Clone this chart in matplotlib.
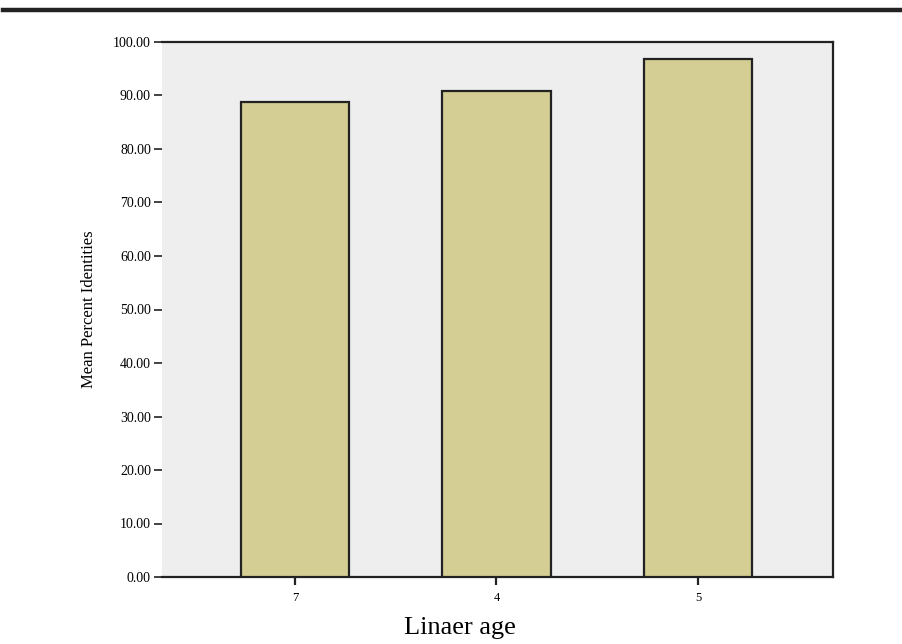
import matplotlib
matplotlib.use("Agg")
import matplotlib.pyplot as plt
from matplotlib.lines import Line2D

categories = ["7", "4", "5"]
values = [88.8, 90.9, 96.8]
yticks = [0, 10, 20, 30, 40, 50, 60, 70, 80, 90, 100]
ytick_labels = [f"{v:.2f}" for v in yticks]

fig = plt.figure(figsize=(9.02, 6.44), dpi=100)
ax = fig.add_axes([162/902, 67/644, 671/902, 535/644])
ax.set_facecolor("#eeeeee")

x = list(range(len(categories)))
ax.bar(x, values, width=0.54, color="#d4cd94", edgecolor="#222222", linewidth=1.6, zorder=3)

ax.set_xlim(-0.66, 2.67)
ax.set_ylim(0, 100)
ax.set_yticks(yticks)
ax.set_yticklabels(ytick_labels, fontsize=10, family="Liberation Serif")
ax.set_xticks(x)
ax.set_xticklabels(categories, fontsize=9, family="Liberation Serif")
ax.tick_params(axis="y", direction="out", length=6, width=1.2, color="#222222", pad=2)
ax.tick_params(axis="x", direction="out", length=6, width=1.6, color="#222222", pad=5)

for side in ["top", "right", "bottom"]:
    ax.spines[side].set_color("#222222")
    ax.spines[side].set_linewidth(1.6)
ax.spines["left"].set_visible(False)

ax.set_ylabel("Mean Percent Identities", fontsize=12, family="Liberation Serif")
ax.yaxis.set_label_coords(-0.097, 0.5)
ax.set_xlabel("Linaer age", fontsize=19, family="Liberation Serif")
ax.xaxis.set_label_coords(0.444, -0.074)

fig.add_artist(Line2D([3/902, 1.0], [1 - 10/644, 1 - 10/644], color="#222222", linewidth=3.2,
                      transform=fig.transFigure))

fig.savefig("out.png", dpi=100)
